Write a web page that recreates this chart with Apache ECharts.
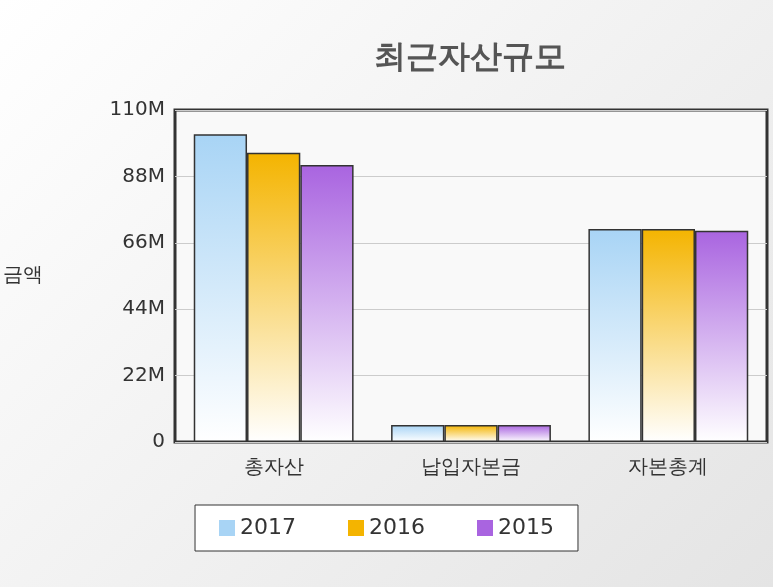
<!DOCTYPE html>
<html><head><meta charset="utf-8">
<script src="https://cdn.jsdelivr.net/npm/echarts@6/dist/echarts.min.js"></script>
<style>html,body{margin:0;padding:0}#c{width:773px;height:587px;background:linear-gradient(135deg,#ffffff 0%,#e4e4e4 100%)}</style>
</head><body><div id="c"></div>
<script>
const categories = ['총자산', '납입자본금', '자본총계'];
const s2017 = [102, 5.6, 70.6];
const s2016 = [95.8, 5.6, 70.6];
const s2015 = [91.8, 5.6, 70.0];
const names = ['2017', '2016', '2015'];
const colors = ['#a8d4f5', '#f4b400', '#a964e0'];
const font = '"DejaVu Sans", sans-serif';
function grad(c){return new echarts.graphic.LinearGradient(0,0,0,1,[{offset:0,color:c},{offset:1,color:'#ffffff'}]);}
const chart = echarts.init(document.getElementById('c'));
chart.setOption({
  title:{text:'최근자산규모',left:465,top:38,textAlign:'center',textStyle:{fontFamily:font,fontSize:32,fontWeight:'bold',color:'#555'}},
  grid:{left:168,right:6,top:110,bottom:145,show:true,backgroundColor:'#f9f9f9',borderColor:'#333',borderWidth:3},
  legend:{top:505,left:'center',itemGap:52,itemWidth:16,itemHeight:16,icon:'rect',borderColor:'#333',borderWidth:1,padding:[12,24],backgroundColor:'#fff',
    textStyle:{fontFamily:font,fontSize:22,color:'#333'},data:names.map((n,i)=>({name:n,itemStyle:{color:colors[i],borderWidth:0}}))},
  xAxis:{type:'category',data:categories,axisTick:{show:false},axisLine:{show:false},
    axisLabel:{fontFamily:font,fontSize:20,color:'#333',margin:16}},
  yAxis:{type:'value',min:0,max:110,interval:22,name:'금액',nameLocation:'middle',nameGap:132,nameRotate:0,
    nameTextStyle:{fontFamily:font,fontSize:20,color:'#333'},
    axisLabel:{fontFamily:font,fontSize:20,color:'#333',margin:10,formatter:v=>v===0?'0':v+'M'},
    splitLine:{lineStyle:{color:'#ccc'}}},
  series:[s2017,s2016,s2015].map((d,i)=>({name:names[i],type:'bar',data:d,barGap:'0%',barCategoryGap:'19%',
    itemStyle:{color:grad(colors[i]),borderColor:'#333',borderWidth:1.5}}))
});
</script></body></html>
